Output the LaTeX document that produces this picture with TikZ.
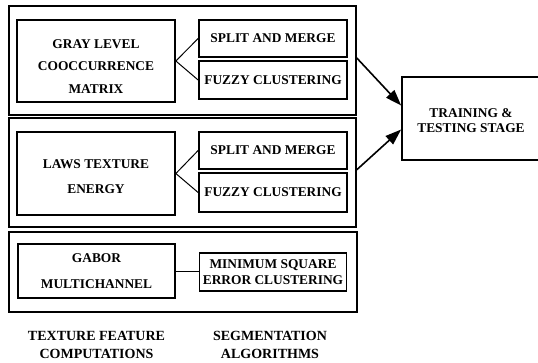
\documentclass[tikz,border=0pt]{standalone}
\usepackage{fontspec}
\setmainfont{Liberation Serif}
\usetikzlibrary{arrows.meta}

\tikzset{
  txt/.style={font=\bfseries\fontsize{13.4}{16}\selectfont, align=center},
  inbox/.style={txt, draw, line width=1.7pt, inner sep=0pt},
  grpbox/.style={draw, line width=1.3pt, inner sep=0pt},
  link/.style={line width=1pt},
  flow/.style={line width=1.6pt, -{Triangle[length=16pt,width=11pt]}},
  caption/.style={font=\bfseries\fontsize{14}{18}\selectfont, align=center, inner sep=0pt}
}

\begin{document}
\begin{tikzpicture}[x=1pt, y=-1pt]
  \useasboundingbox (0,0) rectangle (538,362);

  % group frames
  \node[grpbox, minimum width=347pt, minimum height=109pt] (g1) at (182.5,60.5) {};
  \node[grpbox, minimum width=347pt, minimum height=109pt] (g2) at (182.5,172.5) {};
  \node[grpbox, minimum width=348pt, minimum height=80pt] (g3) at (183,272) {};

  % texture feature computations (struts drop the text a little inside the box)
  \node[inbox, minimum width=158pt, minimum height=82pt] (glcm) at (96,61)
    {\rule{0pt}{19pt}GRAY LEVEL\\[6.5pt]COOCCURRENCE\\[6.5pt]MATRIX};
  \node[inbox, minimum width=158pt, minimum height=83pt] (laws) at (96,173.5)
    {\rule{0pt}{15pt}LAWS TEXTURE\\[9pt]ENERGY};
  \node[inbox, minimum width=157pt, minimum height=54pt] (gabor) at (96.5,271)
    {GABOR\\[10pt]MULTICHANNEL};

  % segmentation algorithms
  \node[inbox, minimum width=148pt, minimum height=37pt] (split1) at (273,38.5) {SPLIT AND MERGE};
  \node[inbox, minimum width=148pt, minimum height=38pt] (fuzzy1) at (273,80) {FUZZY CLUSTERING};
  \node[inbox, minimum width=148pt, minimum height=37pt] (split2) at (273,150.5) {SPLIT AND MERGE};
  \node[inbox, minimum width=148pt, minimum height=39pt] (fuzzy2) at (273,192.5) {FUZZY CLUSTERING};
  \node[inbox, minimum width=147pt, minimum height=38pt] (minsq) at (273,272)
    {MINIMUM SQUARE\\ERROR CLUSTERING};

  % final stage
  \node[inbox, minimum width=138pt, minimum height=83pt] (train) at (471,118.5)
    {\rule{0pt}{14pt}TRAINING \&\\[-1pt]TESTING STAGE};

  % feature to algorithm links
  \draw[link] (glcm.east) -- (split1.west);
  \draw[link] (glcm.east) -- (fuzzy1.west);
  \draw[link] (laws.east) -- (split2.west);
  \draw[link] (laws.east) -- (fuzzy2.west);
  \draw[link] (gabor.east) -- (minsq.west |- gabor.east);

  % results into the training stage
  \draw[flow] (g1.east |- split1.south) -- ([yshift=13pt]train.west);
  \draw[flow] (g2.east |- split2.south) -- ([yshift=-11pt]train.west);

  % column captions
  \node[caption] (capA) at (96.5,345) {TEXTURE FEATURE\\COMPUTATIONS};
  \node[caption] (capB) at (270,345) {SEGMENTATION\\ALGORITHMS};
\end{tikzpicture}
\end{document}
